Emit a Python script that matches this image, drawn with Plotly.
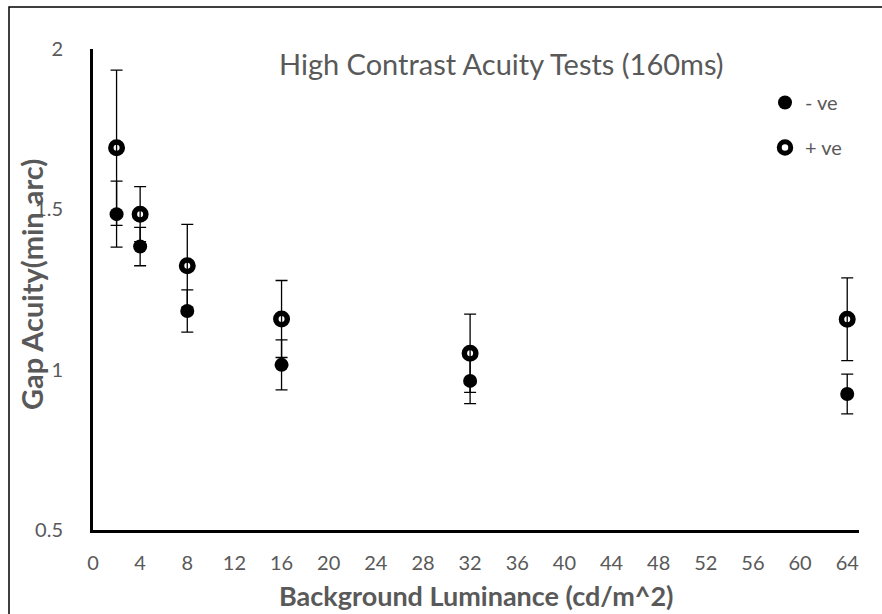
import plotly.graph_objects as go

# ---- data ----
luminance = [2, 4, 8, 16, 32, 64]
neg_ve = [1.485, 1.384, 1.183, 1.015, 0.965, 0.924]
neg_ve_err = [0.103, 0.060, 0.066, 0.078, 0.071, 0.062]
pos_ve = [1.692, 1.485, 1.324, 1.158, 1.051, 1.157]
pos_ve_err = [0.242, 0.086, 0.129, 0.120, 0.122, 0.129]

x_ticks = list(range(0, 65, 4))
y_ticks = [0.5, 1, 1.5, 2]

FONT = "Lato"
GREY = "#595959"

L, R, T, B = 93, 23, 49, 84
PW, PH = 882 - L - R, 614 - T - B


def px(xp):
    return (xp - L) / PW


def py(yp):
    return (614 - B - yp) / PH


fig = go.Figure()
fig.add_trace(go.Scatter(
    x=luminance, y=neg_ve, mode="markers", name="- ve", legendgroup="a",
    marker=dict(symbol="circle", size=14, color="black"),
    error_y=dict(type="data", array=neg_ve_err, visible=True, color="black",
                 thickness=1.3, width=6),
))
fig.add_trace(go.Scatter(
    x=luminance, y=pos_ve, mode="markers", name="+ ve", legendgroup="b",
    marker=dict(symbol="circle-open", size=11.5, color="black",
                line=dict(width=5.5, color="black")),
    error_y=dict(type="data", array=pos_ve_err, visible=True, color="black",
                 thickness=1.3, width=6),
))

fig.update_layout(
    width=882, height=614,
    margin=dict(l=L, r=R, t=T, b=B),
    paper_bgcolor="white", plot_bgcolor="white",
    font=dict(family=FONT, color=GREY, size=20),
    showlegend=True,
    legend=dict(x=px(765), y=py(83), xanchor="left", yanchor="top",
                font=dict(size=20, color=GREY), tracegroupgap=16,
                bgcolor="rgba(0,0,0,0)"),
    xaxis=dict(range=[0, 65], tickvals=x_ticks, showgrid=False, zeroline=False,
               showline=True, linecolor="black", linewidth=3, ticks="",
               ticklabelstandoff=13, tickfont=dict(size=20, color=GREY)),
    yaxis=dict(range=[0.5, 2], tickvals=y_ticks, showgrid=False, zeroline=False,
               showline=True, linecolor="black", linewidth=3, ticks="",
               ticklabelstandoff=23, tickfont=dict(size=20, color=GREY)),
    annotations=[
        dict(text="High Contrast Acuity Tests (160ms)", xref="paper", yref="paper",
             x=px(502), y=py(64), showarrow=False, xanchor="center", yanchor="middle",
             font=dict(size=29, color=GREY, family=FONT)),
        dict(text="<b>Background Luminance (cd/m^2)</b>", xref="paper", yref="paper",
             x=px(476), y=py(595), showarrow=False,
             xanchor="center", yanchor="middle",
             font=dict(size=27, color=GREY, family=FONT)),
        dict(text="<b>Gap Acuity(min arc)</b>", xref="paper", yref="paper",
             x=px(31), y=py(285), showarrow=False, textangle=-90,
             xanchor="center", yanchor="middle",
             font=dict(size=29, color=GREY, family=FONT)),
    ],
    shapes=[
        dict(type="rect", xref="paper", yref="paper",
             x0=px(9), x1=px(895), y0=py(625), y1=py(7),
             line=dict(color="black", width=1.5), layer="below"),
    ],
)

fig.write_html("out.html", config={"displayModeBar": False},
               post_script="document.body.style.margin='0px';")
